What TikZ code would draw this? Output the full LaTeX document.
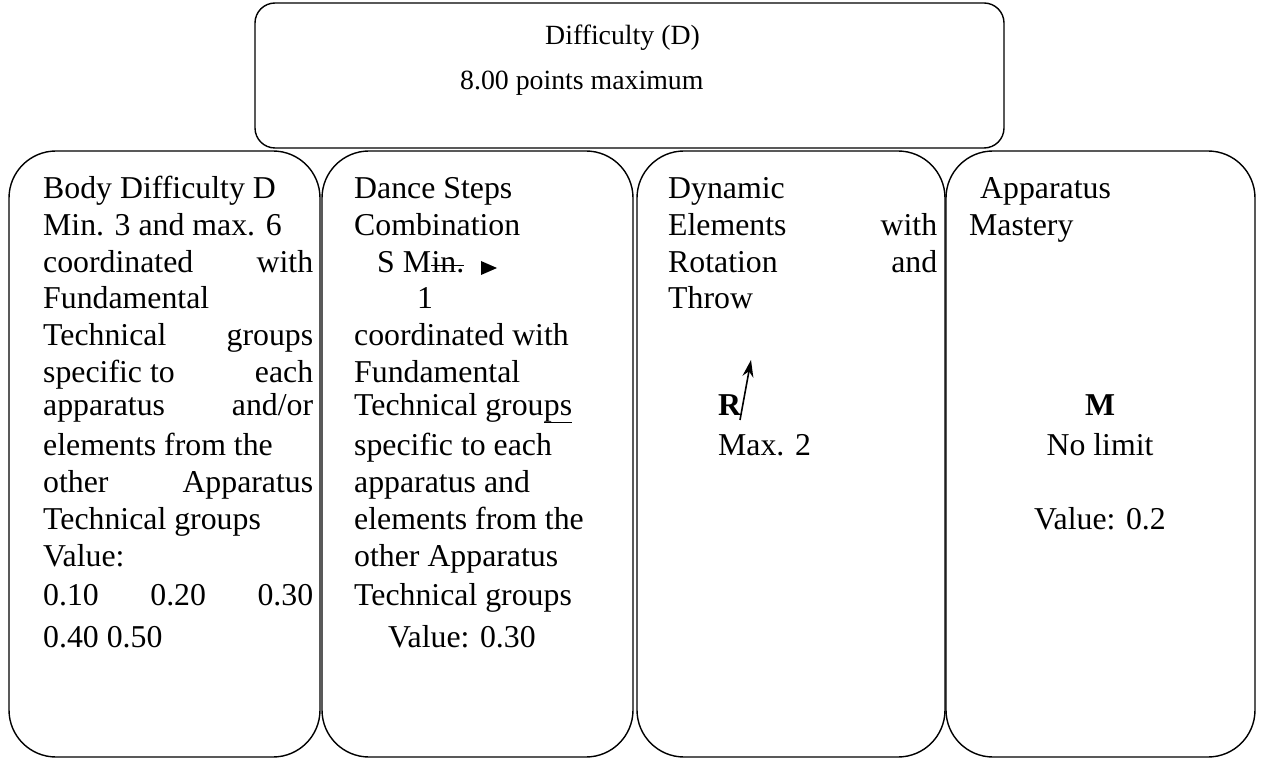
\documentclass[tikz,border=0pt]{standalone}
\usepackage{fontspec}
\setmainfont{Liberation Serif}
\usetikzlibrary{arrows.meta}
\newcommand{\bodyfs}{\fontsize{31.8}{37.3}\selectfont}
\newcommand{\topfs}{\fontsize{27.8}{32}\selectfont}
\begin{document}
\begin{tikzpicture}[x=1pt,y=-1pt,
  panel/.style={draw, line width=1.4pt, rounded corners=47pt, inner sep=0pt, outer sep=0pt},
  topbox/.style={draw, line width=1.4pt, rounded corners=20pt, inner sep=0pt, outer sep=0pt},
  txt/.style={anchor=base west, inner sep=0pt, font=\bodyfs},
  ctxt/.style={anchor=base, inner sep=0pt, font=\bodyfs},
  ttxt/.style={anchor=base west, inner sep=0pt, font=\topfs},
  mark line/.style={line width=1.3pt}]
\useasboundingbox (0,0) rectangle (1262,759);
% panels
\node[panel, minimum width=311pt, minimum height=606pt] (p1) at (164.5,454) {};
\node[panel, minimum width=311pt, minimum height=606pt] (p2) at (477.5,454) {};
\node[panel, minimum width=308pt, minimum height=606pt] (p3) at (791,454) {};
\node[panel, minimum width=309pt, minimum height=606pt] (p4) at (1100.5,454) {};
\node[topbox, fill=white, minimum width=749pt, minimum height=145pt] (top) at (629.5,75.5) {};
% top text
\node[ttxt] (t1) at (545,45) {Difficulty (D)};
\node[ttxt] (t2) at (460,90) {8.00 points maximum};
% box 1
\node[txt] (a0) at (43,198.4) {Body Difficulty D};
\node[txt] (a1) at (43,235.5) {Min. 3 and max. 6};
\node[txt] (a2) at (43,272.3) {\hbox to 270pt{coordinated\hfill with}};
\node[txt] (a3) at (43,309) {Fundamental};
\node[txt] (a4) at (43,346) {\hbox to 270pt{Technical\hfill groups}};
\node[txt] (a5) at (43,382.8) {\hbox to 270pt{specific to\hfill each}};
\node[txt] (a6) at (43,415.2) {\hbox to 270pt{apparatus\hfill and/or}};
\node[txt] (a7) at (43,455.8) {elements from the};
\node[txt] (a8) at (43,492.6) {\hbox to 270pt{other\hfill Apparatus}};
\node[txt] (a9) at (43,529.7) {Technical groups};
\node[txt] (a10) at (43,566.4) {Value:};
\node[txt] (a11) at (43,605) {\hbox to 270pt{0.10\hfill 0.20\hfill 0.30}};
\node[txt] (a12) at (43,647.3) {0.40 0.50};
% box 2
\node[txt] (b0) at (354,198.4) {Dance Steps};
\node[txt] (b1) at (354,235.5) {Combination};
\node[txt] (b2) at (377,272.3) {S M};
\node[txt] (b2s) at (b2.base east) {in.};
\draw[mark line] ([yshift=7pt]b2s.base west) -- ([yshift=7pt]b2s.base east);
\fill (481,261) -- (497,268) -- (481,275) -- cycle;
\node[txt] (b3) at (417,309) {1};
\node[txt] (b4) at (354,346) {coordinated with};
\node[txt] (b5) at (354,382.8) {Fundamental};
\node[txt] (b6) at (354,415.2) {Technical grou};
\node[txt] (b6u) at (b6.base east) {ps};
\draw[mark line] ([yshift=-7pt]b6u.base west) -- ([yshift=-7pt]b6u.base east);
\node[txt] (b7) at (354,455.8) {specific to each};
\node[txt] (b8) at (354,492.6) {apparatus and};
\node[txt] (b9) at (354,529.7) {elements from the};
\node[txt] (b10) at (354,566.4) {other Apparatus};
\node[txt] (b11) at (354,605) {Technical groups};
\node[txt] (b12) at (388,647.3) {Value: 0.30};
% box 3
\node[txt] (c0) at (668,198.4) {Dynamic};
\node[txt] (c1) at (668,235.5) {\hbox to 269pt{Elements\hfill with}};
\node[txt] (c2) at (668,272.3) {\hbox to 269pt{Rotation\hfill and}};
\node[txt] (c3) at (668,309) {Throw};
\node[txt, font=\bodyfs\bfseries] (cR) at (718,416) {R};
\node[txt] (c5) at (718,455.8) {Max. 2};
\coordinate (arS) at (740,420);
\coordinate (arE) at (751,360);
\draw[line width=1.6pt, -{Stealth[length=17pt,width=11pt]}] (arS) -- (arE);
% box 4
\node[txt] (d0) at (980,198.4) {Apparatus};
\node[txt] (d1) at (969,235.5) {Mastery};
\node[ctxt, font=\bodyfs\bfseries] (dM) at (1100,416) {M};
\node[ctxt] (d3) at (1100,455.8) {No limit};
\node[ctxt] (d4) at (1100,529.7) {Value: 0.2};
\end{tikzpicture}
\end{document}
